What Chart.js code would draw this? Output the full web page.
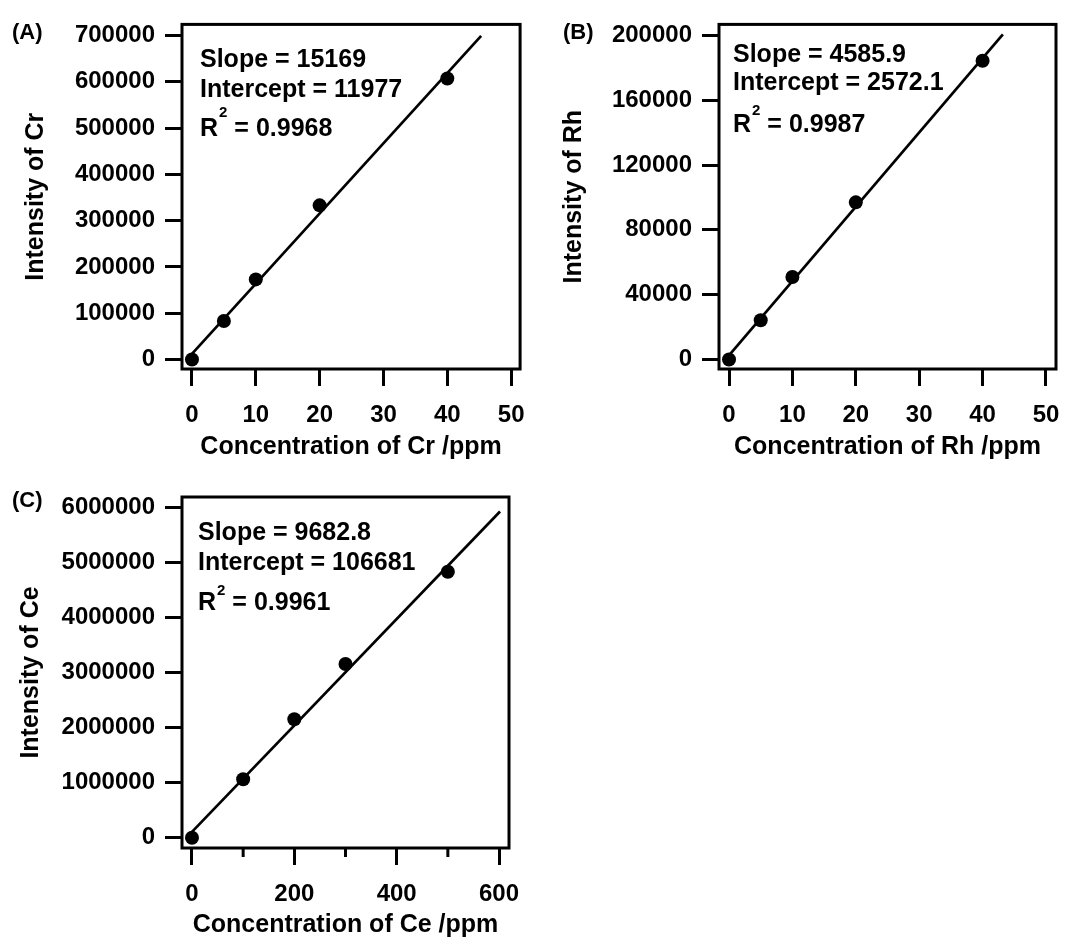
<!DOCTYPE html>
<html><head><meta charset="utf-8">
<script src="https://cdn.jsdelivr.net/npm/chart.js@4"></script>
<style>
body{margin:0;background:#fff;width:1083px;height:938px;overflow:hidden;position:relative;}
canvas{position:absolute;}
</style></head><body>
<canvas id="cA" width="540" height="460" style="left:0;top:0"></canvas>
<canvas id="cB" width="543" height="460" style="left:540px;top:0"></canvas>
<canvas id="cC" width="540" height="478" style="left:0;top:460px"></canvas>
<script>
// ---- Data ----
const crConc = [0, 5, 10, 20, 40];
const crIntensity = [0, 83000, 173000, 333000, 607000];
const crFitX = [0, 45.3];
const crFitY = [11977, 699400];
const crXTicks = [0, 10, 20, 30, 40, 50];
const crYTicks = [0, 100000, 200000, 300000, 400000, 500000, 600000, 700000];
const crStats = ['Slope = 15169', 'Intercept = 11977', '0.9968'];

const rhConc = [0, 5, 10, 20, 40];
const rhIntensity = [0, 24200, 50900, 97000, 184400];
const rhFitX = [0, 43.2];
const rhFitY = [2572, 200700];
const rhXTicks = [0, 10, 20, 30, 40, 50];
const rhYTicks = [0, 40000, 80000, 120000, 160000, 200000];
const rhStats = ['Slope = 4585.9', 'Intercept = 2572.1', '0.9987'];

const ceConc = [0, 100, 200, 300, 500];
const ceIntensity = [0, 1062000, 2153000, 3158000, 4836000];
const ceFitX = [0, 602];
const ceFitY = [106681, 5930000];
const ceXTicks = [0, 200, 400, 600];
const ceXMinorTicks = [100, 300, 500];
const ceYTicks = [0, 1000000, 2000000, 3000000, 4000000, 5000000, 6000000];
const ceStats = ['Slope = 9682.8', 'Intercept = 106681', '0.9961'];

const FONT = '"Liberation Sans", Arial, Helvetica, sans-serif';

const framePlugin = {
  id: 'frame',
  afterDraw(chart, args, o) {
    const ctx = chart.ctx, a = chart.chartArea;
    ctx.save();
    ctx.strokeStyle = '#000';
    ctx.lineWidth = 3;
    ctx.strokeRect(a.left, a.top, a.right - a.left, a.bottom - a.top);
    const xs = chart.scales.x;
    (o.minor || []).forEach(v => {
      const px = xs.getPixelForValue(v);
      ctx.beginPath(); ctx.moveTo(px, a.bottom); ctx.lineTo(px, a.bottom + 9); ctx.stroke();
    });
    ctx.fillStyle = '#000';
    ctx.textAlign = 'left';
    ctx.textBaseline = 'alphabetic';
    ctx.font = 'bold 22px ' + FONT;
    ctx.fillText(o.panel, o.panelX, o.panelY);
    ctx.font = 'bold 25px ' + FONT;
    ctx.fillText(o.stats[0], o.textX, o.base[0]);
    ctx.fillText(o.stats[1], o.textX, o.base[1]);
    let x = o.textX;
    ctx.fillText('R', x, o.base[2]);
    x += ctx.measureText('R').width + 1;
    ctx.font = 'bold 15px ' + FONT;
    ctx.fillText('2', x, o.base[3]);
    x += ctx.measureText('2').width;
    ctx.font = 'bold 25px ' + FONT;
    ctx.fillText(' = ' + o.stats[2], x, o.base[2]);
    ctx.restore();
  }
};

function makeChart(p) {
  const pts = p.conc.map((c, i) => ({x: c, y: p.inten[i]}));
  const fit = p.fitX.map((c, i) => ({x: c, y: p.fitY[i]}));
  return new Chart(document.getElementById(p.id), {
    type: 'scatter',
    data: {
      datasets: [
        {data: pts, pointRadius: 7, pointBackgroundColor: '#000', pointBorderWidth: 0, showLine: false},
        {data: fit, showLine: true, pointRadius: 0, borderColor: '#000', borderWidth: 2.7, fill: false}
      ]
    },
    options: {
      responsive: false,
      animation: false,
      events: [],
      layout: {padding: {top: p.padTop, right: p.padRight, left: 0, bottom: 0}},
      plugins: {
        legend: {display: false},
        tooltip: {enabled: false},
        frame: p.frame
      },
      scales: {
        x: {
          type: 'linear', min: p.xMin, max: p.xMax,
          afterBuildTicks: s => { s.ticks = p.xTicks.map(v => ({value: v})); },
          afterFit: s => { s.height = p.xHeight; },
          border: {display: false},
          grid: {display: true, drawOnChartArea: false, drawTicks: true, tickLength: 17, tickColor: '#000', tickWidth: 3},
          ticks: {autoSkip: false, maxRotation: 0, color: '#000', padding: p.xTickPad, font: {family: FONT, size: 24, weight: 'bold'}, callback: v => String(v)},
          title: {display: true, text: p.xTitle, color: '#000', padding: {top: 0, bottom: 0}, font: {family: FONT, size: 25, weight: 'bold', lineHeight: 1}}
        },
        y: {
          type: 'linear', min: p.yMin, max: p.yMax,
          afterBuildTicks: s => { s.ticks = p.yTicks.map(v => ({value: v})); },
          afterFit: s => { s.width = p.yWidth; },
          border: {display: false},
          grid: {display: true, drawOnChartArea: false, drawTicks: true, tickLength: 17, tickColor: '#000', tickWidth: 3},
          ticks: {autoSkip: false, color: '#000', padding: 10, font: {family: FONT, size: 24, weight: 'bold'}, callback: v => String(v)},
          title: {display: true, text: p.yTitle, color: '#000', padding: {top: p.yTitlePad, bottom: 0}, font: {family: FONT, size: 25, weight: 'bold', lineHeight: 1}}
        }
      }
    },
    plugins: [framePlugin]
  });
}

makeChart({
  id: 'cA', conc: crConc, inten: crIntensity, fitX: crFitX, fitY: crFitY,
  xTicks: crXTicks, yTicks: crYTicks,
  xMin: -1.56, xMax: 51.4, yMin: -20600, yMax: 724000,
  padTop: 18, padRight: 19, xHeight: 91, yWidth: 182, xTickPad: 15, yTitlePad: 24,
  xTitle: 'Concentration of Cr /ppm', yTitle: 'Intensity of Cr',
  frame: {panel: '(A)', panelX: 12, panelY: 39, stats: crStats, textX: 200, base: [66.5, 96.5, 136, 117]}
});
makeChart({
  id: 'cB', conc: rhConc, inten: rhIntensity, fitX: rhFitX, fitY: rhFitY,
  xTicks: rhXTicks, yTicks: rhYTicks,
  xMin: -1.58, xMax: 51.58, yMin: -5900, yMax: 206850,
  padTop: 18, padRight: 27, xHeight: 91, yWidth: 179, xTickPad: 15, yTitlePad: 22,
  xTitle: 'Concentration of Rh /ppm', yTitle: 'Intensity of Rh',
  frame: {panel: '(B)', panelX: 23, panelY: 39, stats: rhStats, textX: 193, base: [62, 90, 131.5, 115]}
});
makeChart({
  id: 'cC', conc: ceConc, inten: ceIntensity, fitX: ceFitX, fitY: ceFitY,
  xTicks: ceXTicks, yTicks: ceYTicks,
  xMin: -19.5, xMax: 619.5, yMin: -187000, yMax: 6194500,
  padTop: 37, padRight: 31, xHeight: 90, yWidth: 182, xTickPad: 15, yTitlePad: 19,
  xTitle: 'Concentration of Ce /ppm', yTitle: 'Intensity of Ce',
  frame: {panel: '(C)', panelX: 12, panelY: 47, minor: ceXMinorTicks, stats: ceStats, textX: 198, base: [80, 110, 150, 135]}
});
</script>
</body></html>
